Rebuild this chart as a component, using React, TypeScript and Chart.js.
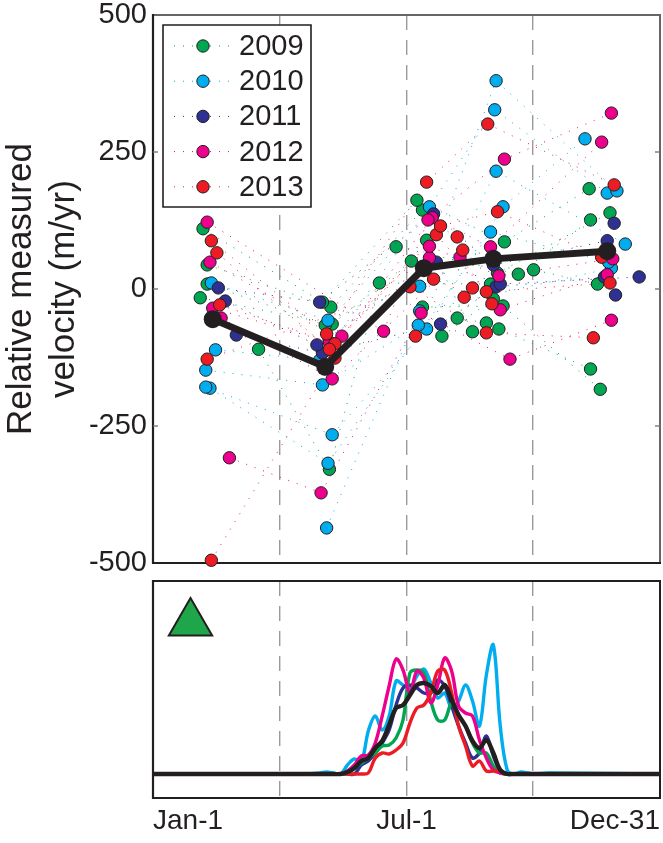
import React, { useEffect, useRef } from "react";
import { Chart, registerables } from "chart.js";

Chart.register(...registerables);

const FONT = '"Liberation Sans", Arial, sans-serif';
const INK = "#231f20";

const years = ["2009", "2010", "2011", "2012", "2013"];
const yearColors = ["#00a651", "#00aeef", "#2e3192", "#ec008c", "#ed1c24"];

// Each row is one dotted track through the season: day of year and relative velocity (m/yr)
const days2009 = [
  [36, 122, 190, 253, 314], [39, 128, 194, 248, 329], [39, 124, 175, 263, 315], [34, 129, 186, 274, 320],
  [76, 127, 163, 243], [194, 252, 322], [208, 245], [219, 240], [197, 230], [249, 315],
];
const vel2009 = [
  [110, -24, 162, 86, 183], [44, -33, 144, 29, 139], [9, -66, 77, 27, 126], [-16, -64, 51, 35, 9],
  [-110, -329, 11, 9], [-33, -31, -183], [-86, -18], [-53, -62], [89, -78], [-73, -146],
];
const days2010 = [
  [42, 126, 192, 247, 334], [45, 120, 199, 246, 327], [38, 122, 191, 247, 340], [38, 129, 197, 252, 311],
  [41, 126, 243, 328], [125, 192, 330],
];
const vel2010 = [
  [11, -57, 5, 380, 179], [-111, -130, 150, 327, 175], [-148, -175, -66, 215, 82], [-179, -266, -73, 150, 274],
  [-181, -318, 104, 49], [-436, -40, 38],
];
const days2011 = [[47, 120, 202, 245, 327], [52, 118, 204, 250, 350], [60, 122, 207, 247, 325], [332], [333]];
const vel2011 = [[2, -24, 137, 44, 88], [-22, -102, 49, 9, 22], [-84, -117, -64, 4, 22], [120], [-11]];
const days2012 = [
  [39, 166, 198, 253, 330], [41, 136, 201, 243, 323], [43, 127, 199, 249, 331], [49, 129, 221, 250, 327],
  [55, 121, 193, 257, 330], [199],
];
const vel2012 = [
  [122, -77, 126, 237, 321], [49, -86, 130, 77, 268], [-35, -97, 78, 24, 55], [-53, -164, 58, -38, 26],
  [-308, -372, -44, -128, -57], [57],
];
const days2013 = [
  [42, 125, 197, 241, 332], [46, 127, 207, 248, 323], [48, 131, 204, 240, 329], [39, 202, 244],
  [42, 131, 185, 240, 317], [219], [223], [230], [224], [189],
];
const vel2013 = [
  [88, -82, 195, 301, 190], [66, -110, 115, 141, 58], [-29, -100, 99, -5, 11], [-128, 18, -27],
  [-495, -126, 4, -80, -89], [95], [71], [2], [-15], [-86],
];
const allDays = [days2009, days2010, days2011, days2012, days2013];
const allVels = [vel2009, vel2010, vel2011, vel2012, vel2013];

const meanDays = [43, 124, 195, 245, 327];
const meanVel = [-55, -142, 38, 55, 69];

// Lower panel: seasonal curves on a shared day grid
const curveDays = [
  0, 110, 120, 125, 130, 135, 140, 145, 150, 155, 160, 165, 170, 175, 180, 185, 190, 195, 200, 205, 210, 215, 220,
  225, 230, 235, 240, 245, 250, 255, 260, 265, 270, 275, 285, 365,
];
const curve2009 = [0, 0, 0, 0, 0, 0, 0, 6, 11, 16, 21, 28, 29, 36, 54, 101, 104, 101, 73, 54, 54, 71, 58, 48, 31, 21, 21, 8, 1, 0, 0, 0, 0, 0, 0, 0];
const curve2010 = [0, 0, 1, 2, 1, 0, 9, 15, 12, 43, 58, 44, 58, 93, 89, 86, 98, 105, 91, 76, 81, 66, 73, 89, 73, 48, 99, 129, 48, 4, 0, 2, 1, 0, 1, 0];
const curve2011 = [0, 0, 0, 0, 0, 0, 0, 0, 9, 13, 21, 31, 44, 69, 86, 89, 86, 81, 81, 94, 88, 68, 48, 31, 16, 21, 38, 18, 3, 0, 0, 0, 0, 0, 0, 0];
const curve2012 = [0, 0, 0, 0, 0, 0, 3, 9, 18, 19, 31, 58, 88, 115, 104, 81, 103, 96, 71, 89, 116, 103, 68, 61, 58, 34, 16, 4, 1, 0, 0, 0, 0, 0, 0, 0];
const curve2013 = [0, 0, 0, 0, 0, 0, 0, 0, 0, 1, 16, 21, 20, 24, 31, 51, 66, 69, 81, 103, 104, 81, 48, 28, 8, 13, 3, 3, 3, 0, 0, 0, 0, 0, 0, 0];
const curveMean = [0, 0, 0, 0, 0, 0, 2, 6, 13, 16, 26, 33, 49, 66, 69, 79, 89, 91, 88, 81, 89, 74, 59, 48, 33, 26, 34, 21, 4, 0, 0, 0, 0, 0, 0, 0];
const curveOrder = [curve2010, curve2011, curve2009, curve2012, curve2013];
const curveColors = ["#00aeef", "#2e3192", "#00a651", "#ec008c", "#ed1c24"];

const triangleDay = 27;
const triangleLevel = 151;

const gridDays = [0, 91, 182.5, 273.5, 365];
const dayLabels: Record<number, string> = { 0: "Jan-1", 182.5: "Jul-1", 365: "Dec-31" };
const velocityTicks = [500, 250, 0, -250, -500];

const noScalePadding = (s: any) => {
  s.paddingTop = 0;
  s.paddingBottom = 0;
  s.paddingLeft = 0;
  s.paddingRight = 0;
};

const makeX = (showLabels: boolean) => ({
  type: "linear",
  min: 0,
  max: 365,
  afterBuildTicks: (s: any) => {
    s.ticks = gridDays.map((value) => ({ value }));
  },
  afterFit: (s: any) => {
    s.height = showLabels ? 45 : 0;
    noScalePadding(s);
  },
  border: { display: false, dash: [15, 10] },
  grid: {
    drawTicks: false,
    lineWidth: 1.4,
    color: (c: any) => (c.tick && (c.tick.value === 0 || c.tick.value === 365) ? "rgba(0,0,0,0)" : "#9a9a9a"),
  },
  ticks: {
    display: showLabels,
    autoSkip: false,
    maxRotation: 0,
    align: "inner",
    padding: 6,
    color: INK,
    font: { family: FONT, size: 28 },
    callback: (v: number) => dayLabels[v] ?? "",
  },
});

const framePlugin = (topColor: string, rightColor: string, yTicks: number[]) => ({
  id: "frame",
  beforeDatasetsDraw(chart: any) {
    const { left, right, top, bottom } = chart.chartArea;
    const ctx = chart.ctx;
    ctx.save();
    const seg = (x1: number, y1: number, x2: number, y2: number, color: string, w: number) => {
      ctx.beginPath();
      ctx.strokeStyle = color;
      ctx.lineWidth = w;
      ctx.moveTo(x1, y1);
      ctx.lineTo(x2, y2);
      ctx.stroke();
    };
    seg(left - 1, top, right + 1, top, topColor, 1.8);
    seg(right, top, right, bottom, rightColor, 2);
    seg(left, top - 1, left, bottom + 1, INK, 2.2);
    seg(left - 1, bottom, right + 1, bottom, INK, 2.2);
    yTicks.forEach((v) => {
      const y = chart.scales.y.getPixelForValue(v);
      seg(left, y, left + 5, y, "#777777", 1.4);
      seg(right, y, right - 5, y, "#777777", 1.4);
    });
    ctx.restore();
  },
});

const legendPlugin = {
  id: "yearLegend",
  afterDatasetsDraw(chart: any) {
    const ctx = chart.ctx;
    ctx.save();
    ctx.fillStyle = "#ffffff";
    ctx.strokeStyle = INK;
    ctx.lineWidth = 1.6;
    ctx.beginPath();
    ctx.rect(163, 25, 148, 182);
    ctx.fill();
    ctx.stroke();
    years.forEach((label, i) => {
      const y = 46 + i * 35.2;
      ctx.beginPath();
      ctx.setLineDash([1, 8]);
      ctx.lineWidth = 1;
      ctx.strokeStyle = yearColors[i];
      ctx.moveTo(174, y);
      ctx.lineTo(229, y);
      ctx.stroke();
      ctx.setLineDash([]);
      ctx.beginPath();
      ctx.arc(203, y, 6.2, 0, Math.PI * 2);
      ctx.fillStyle = yearColors[i];
      ctx.fill();
      ctx.strokeStyle = INK;
      ctx.lineWidth = 1;
      ctx.stroke();
      ctx.fillStyle = INK;
      ctx.font = `29px ${FONT}`;
      ctx.textAlign = "left";
      ctx.textBaseline = "middle";
      ctx.fillText(label, 239, y + 1);
    });
    ctx.restore();
  },
};

export default function App() {
  const topRef = useRef<HTMLCanvasElement>(null);
  const bottomRef = useRef<HTMLCanvasElement>(null);

  useEffect(() => {
    const trackSets: any[] = [];
    years.forEach((year, yi) => {
      allDays[yi].forEach((row, ti) => {
        trackSets.push({
          label: `${year} track ${ti + 1}`,
          data: row.map((x, k) => ({ x, y: allVels[yi][ti][k] })),
          showLine: true,
          borderColor: yearColors[yi],
          borderWidth: 1,
          borderDash: [1, 8],
          tension: 0,
          pointRadius: 6.2,
          pointBackgroundColor: yearColors[yi],
          pointBorderColor: INK,
          pointBorderWidth: 1,
          clip: false,
          order: 10 - yi,
        });
      });
    });
    trackSets.push({
      label: "Mean",
      data: meanDays.map((x, k) => ({ x, y: meanVel[k] })),
      showLine: true,
      borderColor: INK,
      borderWidth: 7,
      tension: 0,
      pointRadius: 9,
      pointBackgroundColor: INK,
      pointBorderColor: INK,
      pointBorderWidth: 0,
      order: 0,
    });

    const top = new Chart(topRef.current as any, {
      type: "scatter",
      data: { datasets: trackSets },
      options: {
        responsive: false,
        animation: false,
        layout: { autoPadding: false, padding: { top: 15, right: 3, bottom: 12, left: 0 } },
        plugins: { legend: { display: false }, tooltip: { enabled: false } },
        scales: {
          x: makeX(false),
          y: {
            type: "linear",
            min: -500,
            max: 500,
            afterBuildTicks: (s: any) => {
              s.ticks = velocityTicks.map((value) => ({ value }));
            },
            afterFit: (s: any) => {
              s.width = 153;
              noScalePadding(s);
            },
            border: { display: false },
            grid: { display: false, drawTicks: false },
            ticks: { padding: 6, color: INK, font: { family: FONT, size: 29 } },
            title: {
              display: true,
              text: ["Relative measured", "velocity (m/yr)"],
              color: INK,
              font: { family: FONT, size: 35, lineHeight: 1.22 },
              padding: { top: 0, bottom: 0 },
            },
          },
        },
      } as any,
      plugins: [framePlugin("#666666", "#666666", [250, 0, -250]), legendPlugin],
    } as any);

    const curveSets: any[] = curveOrder.map((curve, i) => ({
      label: `curve ${i + 1}`,
      data: curveDays.map((x, k) => ({ x, y: curve[k] })),
      showLine: true,
      borderColor: curveColors[i],
      borderWidth: 3.4,
      tension: 0.35,
      pointRadius: 0,
      order: 10 - i,
    }));
    curveSets.push({
      label: "Mean",
      data: curveDays.map((x, k) => ({ x, y: curveMean[k] })),
      showLine: true,
      borderColor: INK,
      borderWidth: 4.4,
      tension: 0.35,
      pointRadius: 0,
      order: 1,
    });
    curveSets.push({
      label: "Site",
      data: [{ x: triangleDay, y: triangleLevel }],
      pointStyle: "triangle",
      pointRadius: 25,
      pointBackgroundColor: "#1fa64a",
      pointBorderColor: INK,
      pointBorderWidth: 2,
      order: 0,
    });

    const bottom = new Chart(bottomRef.current as any, {
      type: "scatter",
      data: { datasets: curveSets },
      options: {
        responsive: false,
        animation: false,
        layout: { autoPadding: false, padding: { top: 6, right: 3, bottom: 0, left: 153 } },
        plugins: { legend: { display: false }, tooltip: { enabled: false } },
        scales: {
          x: makeX(true),
          y: { type: "linear", min: -24, max: 193, display: false },
        },
      } as any,
      plugins: [framePlugin(INK, INK, [])],
    } as any);

    return () => {
      top.destroy();
      bottom.destroy();
    };
  }, []);

  return (
    <div style={{ position: "absolute", left: 0, top: 0, width: 663, height: 843, background: "#fff" }}>
      <canvas ref={topRef} width={663} height={575} style={{ position: "absolute", left: 0, top: 0, display: "block" }} />
      <canvas ref={bottomRef} width={663} height={268} style={{ position: "absolute", left: 0, top: 575, display: "block" }} />
    </div>
  );
}
